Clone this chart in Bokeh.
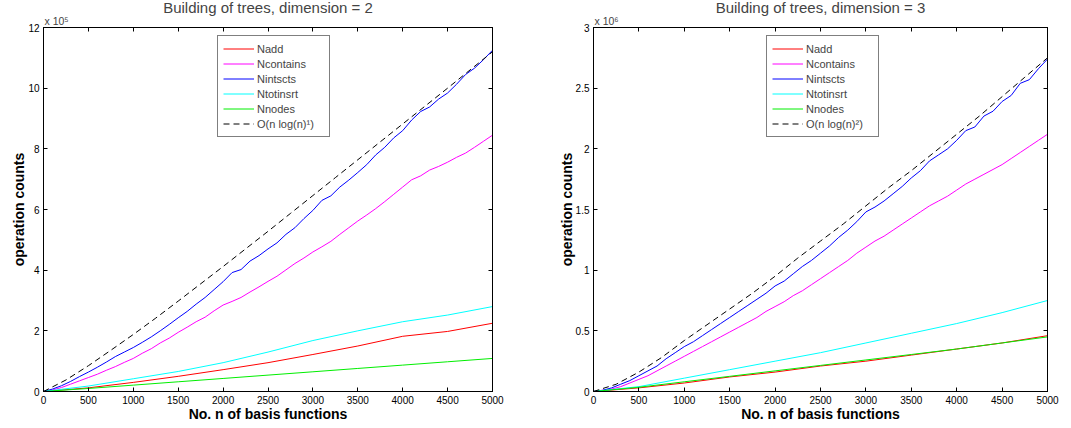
from bokeh.plotting import figure
from bokeh.layouts import row
from bokeh.models import Legend, LegendItem, LinearAxis, FixedTicker, Range1d, Title
from bokeh.embed import file_html
from bokeh.resources import INLINE

FONT = "Liberation Sans"

n_fine = list(range(0, 5001, 100))
n_coarse = list(range(0, 5001, 500))
n_ref = list(range(0, 5001, 250))

x_ticks = list(range(0, 5001, 500))

# ---- dimension 2 (values in units of 1e5) ----
d2_nintscts = [0.00, 0.08, 0.19, 0.33, 0.49, 0.64, 0.80, 0.97, 1.15, 1.30, 1.45, 1.62, 1.80, 2.00, 2.21,
               2.43, 2.64, 2.88, 3.10, 3.36, 3.62, 3.92, 4.02, 4.30, 4.48, 4.70, 4.90, 5.18, 5.40, 5.70,
               5.97, 6.30, 6.45, 6.74, 6.97, 7.22, 7.48, 7.80, 8.05, 8.36, 8.60, 8.95, 9.23, 9.38, 9.64,
               9.84, 10.13, 10.45, 10.66, 10.94, 11.25]
d2_ncontains = [0.00, 0.05, 0.13, 0.24, 0.35, 0.46, 0.57, 0.70, 0.82, 0.96, 1.09, 1.26, 1.41, 1.60, 1.76,
                1.95, 2.12, 2.30, 2.45, 2.66, 2.85, 2.97, 3.10, 3.28, 3.45, 3.63, 3.80, 4.01, 4.22, 4.40,
                4.60, 4.77, 4.95, 5.18, 5.40, 5.62, 5.82, 6.03, 6.26, 6.50, 6.74, 6.98, 7.11, 7.30, 7.42,
                7.56, 7.72, 7.86, 8.05, 8.25, 8.45]
d2_ntotinsrt = [0.00, 0.18, 0.42, 0.66, 0.95, 1.30, 1.68, 2.00, 2.30, 2.52, 2.80]
d2_nadd = [0.00, 0.12, 0.30, 0.50, 0.72, 0.95, 1.22, 1.50, 1.82, 1.98, 2.25]
d2_nnodes = [0.00, 0.10, 0.21, 0.32, 0.43, 0.54, 0.65, 0.76, 0.87, 0.98, 1.09]
d2_ref = [0.00, 0.38, 0.85, 1.36, 1.88, 2.42, 2.98, 3.55, 4.12, 4.70, 5.28, 5.87, 6.46, 7.05, 7.64,
          8.23, 8.82, 9.41, 10.00, 10.60, 11.20]
d2_yticks = [0, 2, 4, 6, 8, 10, 12]
d2_ylabels = ["0", "2", "4", "6", "8", "10", "12"]

# ---- dimension 3 (values in units of 1e6) ----
d3_nintscts = [0.00, 0.01, 0.03, 0.06, 0.09, 0.13, 0.17, 0.21, 0.27, 0.32, 0.37, 0.41, 0.46, 0.51, 0.56,
               0.61, 0.66, 0.71, 0.76, 0.81, 0.87, 0.91, 0.97, 1.03, 1.08, 1.14, 1.20, 1.27, 1.33, 1.40,
               1.48, 1.52, 1.57, 1.63, 1.69, 1.76, 1.82, 1.90, 1.95, 2.00, 2.07, 2.15, 2.18, 2.27, 2.31,
               2.39, 2.44, 2.54, 2.57, 2.66, 2.74]
d3_ncontains = [0.00, 0.01, 0.02, 0.04, 0.07, 0.10, 0.13, 0.17, 0.21, 0.25, 0.29, 0.33, 0.37, 0.41, 0.45,
                0.49, 0.53, 0.57, 0.61, 0.66, 0.70, 0.74, 0.79, 0.83, 0.88, 0.93, 0.98, 1.03, 1.08, 1.14,
                1.19, 1.24, 1.28, 1.33, 1.38, 1.43, 1.48, 1.53, 1.57, 1.61, 1.66, 1.71, 1.75, 1.79, 1.83,
                1.87, 1.92, 1.97, 2.02, 2.07, 2.12]
d3_ntotinsrt = [0.00, 0.04, 0.11, 0.18, 0.25, 0.32, 0.40, 0.48, 0.56, 0.65, 0.75]
d3_nadd = [0.00, 0.03, 0.07, 0.12, 0.16, 0.21, 0.25, 0.30, 0.35, 0.40, 0.46]
d3_nnodes = [0.00, 0.035, 0.08, 0.125, 0.17, 0.215, 0.26, 0.305, 0.35, 0.40, 0.45]
d3_ref = [0.00, 0.06, 0.16, 0.28, 0.42, 0.55, 0.68, 0.81, 0.95, 1.10, 1.24, 1.38, 1.53, 1.68, 1.82,
          1.97, 2.12, 2.27, 2.43, 2.59, 2.75]
d3_yticks = [0, 0.5, 1, 1.5, 2, 2.5, 3]
d3_ylabels = ["0", "0.5", "1", "1.5", "2", "2.5", "3"]

COLORS = {"Nadd": "#ff0000", "Ncontains": "#ff00ff", "Nintscts": "#0000ff",
          "Ntotinsrt": "#00ffff", "Nnodes": "#00ee00"}


def make_panel(title, ymax, yticks, ylabels, exponent_text, series, ref, ref_label,
               width, b_left, b_right, legend_xy, title_offset):
    p = figure(width=width, height=428, output_backend="svg", toolbar_location=None,
               x_range=Range1d(0, 5000), y_range=Range1d(0, ymax),
               min_border_left=b_left, min_border_right=b_right,
               min_border_top=26, min_border_bottom=37)
    p.background_fill_color = "white"
    p.border_fill_color = "white"
    p.outline_line_color = "black"
    p.outline_line_width = 1
    p.grid.visible = False

    items = []
    for name, xs, ys in series:
        r = p.line(xs, ys, line_color=COLORS[name], line_width=1)
        items.append(LegendItem(label=name, renderers=[r]))
    rr = p.line(n_ref, ref, line_color="black", line_width=1, line_dash="6 4")
    items.append(LegendItem(label=ref_label, renderers=[rr]))

    p.xaxis.ticker = FixedTicker(ticks=x_ticks)
    p.yaxis.ticker = FixedTicker(ticks=yticks)
    p.yaxis.major_label_overrides = {t: l for t, l in zip(yticks, ylabels)}
    for ax in (p.xaxis[0], p.yaxis[0]):
        ax.major_tick_in = 4
        ax.major_tick_out = 0
        ax.minor_tick_line_color = None
        ax.axis_line_color = "black"
        ax.major_tick_line_color = "black"
        ax.major_label_text_font = FONT
        ax.major_label_text_font_size = "10px"
        ax.major_label_text_color = "black"
        ax.axis_label_text_font = FONT
        ax.axis_label_text_font_style = "bold"
        ax.axis_label_text_font_size = "14px"
        ax.axis_label_text_color = "black"
        ax.major_label_standoff = 4
    p.xaxis.axis_label_standoff = -1
    p.yaxis.axis_label_standoff = -2
    p.xaxis.axis_label = "No. n of basis functions"
    p.yaxis.axis_label = "operation counts"

    top = LinearAxis(ticker=FixedTicker(ticks=x_ticks),
                     major_label_overrides={t: "" for t in x_ticks},
                     major_tick_in=4, major_tick_out=0, minor_tick_line_color=None,
                     major_label_standoff=0, axis_line_color="black")
    p.add_layout(top, "above")
    right = LinearAxis(ticker=FixedTicker(ticks=yticks),
                       major_label_overrides={t: "" for t in yticks},
                       major_tick_in=4, major_tick_out=0, minor_tick_line_color=None,
                       major_label_standoff=0, axis_line_color="black")
    p.add_layout(right, "right")

    sub = Title(text=exponent_text, align="left", text_font=FONT, text_font_size="10.5px",
                text_font_style="normal", standoff=1, offset=1)
    p.add_layout(sub, "above")

    p.title.text = title
    p.title.align = "center"
    p.title.offset = title_offset
    p.title.text_font = FONT
    p.title.text_font_style = "normal"
    p.title.text_font_size = "15px"
    p.title.standoff = -7

    legend = Legend(items=items, location=legend_xy, orientation="vertical",
                    label_text_font=FONT, label_text_font_size="11px",
                    glyph_width=31, glyph_height=15, label_height=15, label_standoff=3,
                    label_width=67, spacing=0, padding=5, margin=0,
                    border_line_color="black", border_line_width=1.5,
                    background_fill_color="white", background_fill_alpha=1)
    p.add_layout(legend, "center")
    return p


p1 = make_panel("Building of trees, dimension = 2", 12, d2_yticks, d2_ylabels, "x 10\u2075",
                [("Nadd", n_coarse, d2_nadd), ("Ncontains", n_fine, d2_ncontains),
                 ("Nintscts", n_fine, d2_nintscts), ("Ntotinsrt", n_coarse, d2_ntotinsrt),
                 ("Nnodes", n_coarse, d2_nnodes)],
                d2_ref, "O(n log(n)\u00b9)", 540, 43, 48, (174, 254), 4)
p2 = make_panel("Building of trees, dimension = 3", 3, d3_yticks, d3_ylabels, "x 10\u2076",
                [("Nadd", n_coarse, d3_nadd), ("Ncontains", n_fine, d3_ncontains),
                 ("Nintscts", n_fine, d3_nintscts), ("Ntotinsrt", n_coarse, d3_ntotinsrt),
                 ("Nnodes", n_coarse, d3_nnodes)],
                d3_ref, "O(n log(n)\u00b2)", 531, 53, 24, (173, 254), 0)

layout = row(p1, p2, spacing=0)
open("out.html", "w").write(file_html(layout, INLINE))
